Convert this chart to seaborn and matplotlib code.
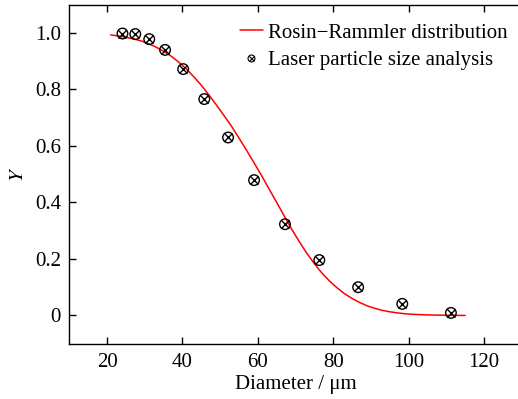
import matplotlib
matplotlib.use("Agg")
import matplotlib.pyplot as plt
from matplotlib.legend_handler import HandlerTuple
from matplotlib.lines import Line2D
from matplotlib.ticker import FuncFormatter
import seaborn as sns
import pandas as pd

# Measured cumulative fraction from laser particle size analysis
diameter_um = [24.1, 27.5, 31.2, 35.4, 40.2, 45.8, 52.1, 59.0, 67.2, 76.3, 86.6, 98.3, 111.2]
y_measured = [0.998, 0.996, 0.978, 0.940, 0.872, 0.766, 0.630, 0.479, 0.323, 0.196, 0.100, 0.041, 0.009]

# Rosin-Rammler fitted curve, sampled along the diameter range
curve_d = [21, 23, 25, 27, 29, 31, 33, 35, 37, 39, 41, 43, 45, 47, 49, 51, 53, 55, 57, 59,
           61, 63, 65, 67, 69, 71, 73, 75, 77, 79, 81, 83, 85, 87, 89, 91, 93, 95, 97, 99,
           101, 103, 105, 108, 111, 115]
curve_y = [0.993, 0.989, 0.985, 0.979, 0.972, 0.962, 0.950, 0.935, 0.918, 0.897, 0.873, 0.845,
           0.815, 0.781, 0.745, 0.708, 0.670, 0.628, 0.585, 0.540, 0.495, 0.447, 0.400, 0.352,
           0.305, 0.261, 0.220, 0.183, 0.150, 0.122, 0.098, 0.077, 0.060, 0.046, 0.034, 0.025,
           0.018, 0.013, 0.009, 0.006, 0.004, 0.003, 0.002, 0.001, 0.0005, 0.0]

x_ticks = [20, 40, 60, 80, 100, 120]
y_ticks = [0, 0.2, 0.4, 0.6, 0.8, 1.0]

sns.set_theme(style="ticks")
plt.rcParams["font.family"] = ["Liberation Serif", "DejaVu Serif"]
plt.rcParams["mathtext.fontset"] = "stix"
plt.rcParams["text.color"] = "black"
plt.rcParams["axes.labelcolor"] = "black"

FS = 15
W, H = 518, 399
fig = plt.figure(figsize=(W / 100, H / 100), dpi=100)
left, right, top, bottom = 69.3, 521.8, 4.7, 343.7
ax = fig.add_axes([left / W, 1 - bottom / H, (right - left) / W, (bottom - top) / H])

curve_df = pd.DataFrame({"d": curve_d, "y": curve_y})
meas_df = pd.DataFrame({"d": diameter_um, "y": y_measured})

sns.lineplot(data=curve_df, x="d", y="y", ax=ax, color="#ff0000", linewidth=1.1,
             legend=False, zorder=2)
sns.scatterplot(data=meas_df, x="d", y="y", ax=ax, marker="o", s=58,
                facecolor="none", edgecolor="black", linewidth=1.0, legend=False, zorder=3)
sns.scatterplot(data=meas_df, x="d", y="y", ax=ax, marker="x", s=34,
                color="black", linewidth=1.0, legend=False, zorder=3)

ax.set_xlim(10, 130)
ax.set_ylim(-0.1, 1.1)
ax.set_xticks(x_ticks)
ax.set_yticks(y_ticks)
ax.yaxis.set_major_formatter(FuncFormatter(lambda v, p: "0" if abs(v) < 1e-9 else f"{v:.1f}"))
ax.tick_params(direction="in", length=5, width=1.0, labelsize=FS, top=True, right=False,
               colors="black")
ax.tick_params(axis="x", pad=7)
ax.tick_params(axis="y", pad=6)
for s in ax.spines.values():
    s.set_linewidth(1.0)
    s.set_color("black")

ax.set_xlabel("Diameter / μm", fontsize=FS, labelpad=2)
ax.set_ylabel("$Y$", fontsize=FS, labelpad=5)

line_handle = Line2D([], [], color="#ff0000", linewidth=1.1)
circ_handle = Line2D([], [], linestyle="none", marker="o", markersize=5,
                     markerfacecolor="none", markeredgecolor="black", markeredgewidth=0.8)
x_handle = Line2D([], [], linestyle="none", marker="x", markersize=3.6,
                  color="black", markeredgewidth=0.8)
ax.legend([line_handle, (circ_handle, x_handle)],
          ["Rosin−Rammler distribution", "Laser particle size analysis"],
          handler_map={tuple: HandlerTuple(ndivide=1, pad=0)},
          loc="upper left",
          bbox_to_anchor=((240 - left) / (right - left), 1 - (23 - top) / (bottom - top)),
          frameon=False, fontsize=FS, handlelength=1.1, handletextpad=0.25,
          labelspacing=0.39, borderaxespad=0.0, borderpad=0.0)

fig.savefig("out.png", dpi=100)
